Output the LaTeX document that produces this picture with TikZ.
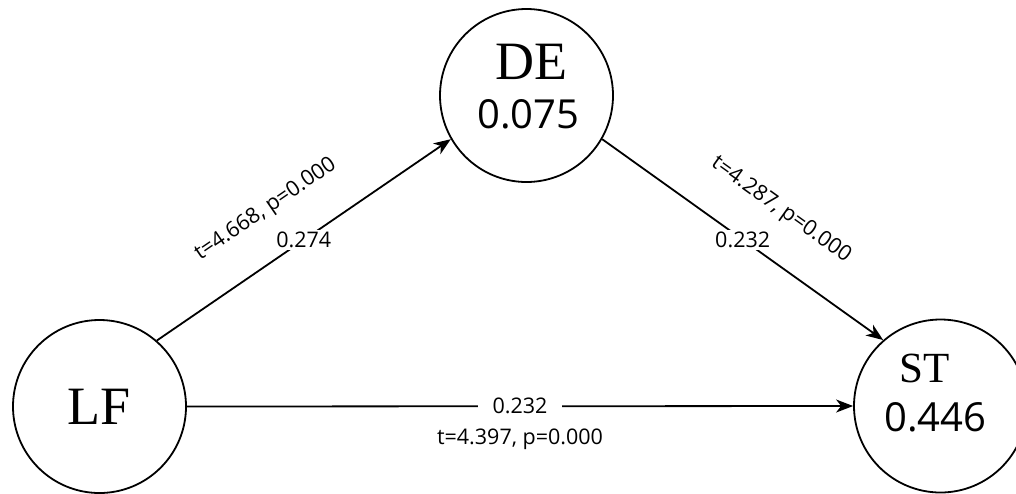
\documentclass[tikz,border=0pt]{standalone}
\usepackage{fontspec}
\setmainfont{Liberation Serif}
\newfontfamily\labsans{Open Sans}
\usetikzlibrary{arrows.meta}
\tikzset{
  circ/.style={circle, draw, line width=1.8pt, minimum size=173pt, inner sep=0pt},
  nm/.style={font=\fontsize{54}{54}\selectfont, inner sep=0pt, anchor=base},
  nms/.style={font=\fontsize{43}{43}\selectfont, inner sep=0pt, anchor=base},
  val/.style={font=\labsans\fontsize{40}{40}\selectfont, inner sep=0pt, anchor=base},
  edge/.style={line width=1.8pt, -{Stealth[length=17pt,width=13pt,inset=5pt]}},
  coef/.style={font=\labsans\fontsize{21.5}{21.5}\selectfont, fill=white, inner xsep=15pt, inner ysep=2pt},
  tlbl/.style={font=\labsans\fontsize{21.5}{21.5}\selectfont, inner sep=0pt}
}
\begin{document}
\begin{tikzpicture}[x=1pt,y=-1pt]
\useasboundingbox (0,0) rectangle (1016,493);
\node[circ, font=\fontsize{54}{54}\selectfont] (LF) at (99.5,406.5) {LF};
\node[circ] (DE) at (526.5,95.5) {};
\node[circ] (ST) at (940.5,406) {};
\node[nm] (DEn) at (531,79) {DE};
\node[val] (DEv) at (528.5,128) {0.075};
\node[nms] (STn) at (925,382) {ST};
\node[val] (STv) at (935.5,431) {0.446};
\draw[edge] (LF.49) -- node[coef, pos=0.5] (c1) {0.274}
  node[tlbl, pos=0.46, sloped, above=35pt] (t1) {t=4.668, p=0.000} (DE.210);
\draw[edge] (DE.-30) -- node[coef, pos=0.5] (c2) {0.232}
  node[tlbl, pos=0.54, sloped, above=35pt] (t2) {t=4.287, p=0.000} (ST.131);
\draw[edge] (LF.east) -- node[coef, pos=0.5] (c3) {0.232}
  node[tlbl, pos=0.5, below=22pt] (t3) {t=4.397, p=0.000} (ST.west);
\end{tikzpicture}
\end{document}
